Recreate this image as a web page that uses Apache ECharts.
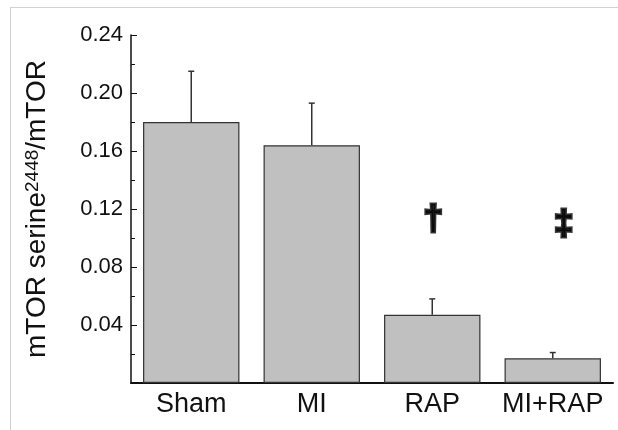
<!DOCTYPE html>
<html>
<head>
<meta charset="utf-8">
<script src="https://cdn.jsdelivr.net/npm/echarts@6/dist/echarts.min.js"></script>
<style>
  html, body { margin: 0; padding: 0; background: #fff; }
  #chart { width: 618px; height: 430px; }
</style>
</head>
<body>
<div id="chart"></div>
<script>
// Groups and measured ratios (mean ± SE)
const categories = ['Sham', 'MI', 'RAP', 'MI+RAP'];
const means = [0.180, 0.164, 0.047, 0.017];
const errors = [0.035, 0.029, 0.011, 0.004];
// Significance symbols and the level they sit at
const markers = ['', '', '\u2020', '\u2021'];
const markerLevels = [null, null, 0.1125, 0.1085];
// Y axis range
const yMin = 0, yMax = 0.24, yStep = 0.04;

const FONT = '"Liberation Sans", Arial, sans-serif';
// Horizontal nudge (px) for each symbol label
const markerNudge = { '\u2020': 1, '\u2021': 11 };

const chart = echarts.init(document.getElementById('chart'), null, { renderer: 'canvas' });

const errorData = means.map((m, i) => [i, m, m + errors[i]]);
const markerData = markers
  .map((s, i) => (s ? {
    value: [i, markerLevels[i]],
    symbolText: s,
    label: { offset: [markerNudge[s] || 0, 0] }
  } : null))
  .filter(Boolean);

chart.setOption({
  animation: false,
  backgroundColor: '#fff',
  graphic: [
    { type: 'line', shape: { x1: 10, y1: 7.5, x2: 618, y2: 7.5 }, style: { stroke: '#d2d2d2', lineWidth: 1 } },
    { type: 'line', shape: { x1: 10.5, y1: 7, x2: 10.5, y2: 430 }, style: { stroke: '#d2d2d2', lineWidth: 1 } }
  ],
  grid: { left: 131, right: 5, top: 35, bottom: 47 },
  xAxis: {
    type: 'category',
    data: categories,
    axisLine: { show: true, lineStyle: { color: '#111', width: 2 } },
    axisTick: { show: false },
    axisLabel: { interval: 0, fontSize: 27, color: '#111', fontFamily: FONT, margin: 8 },
    splitLine: { show: false }
  },
  yAxis: {
    type: 'value',
    min: yMin,
    max: yMax,
    interval: yStep,
    name: '{a|mTOR serine}{b|2448}{a|/mTOR}',
    nameLocation: 'middle',
    nameRotate: 90,
    nameGap: 80,
    nameTextStyle: {
      rich: {
        a: { fontSize: 28, color: '#111', fontFamily: FONT },
        b: { fontSize: 19, color: '#111', fontFamily: FONT, verticalAlign: 'top', padding: [0, 0, 8, 0] }
      }
    },
    axisLine: { show: true, lineStyle: { color: '#111', width: 1.5 } },
    axisTick: { show: true, inside: true, length: 6, lineStyle: { color: '#111', width: 1 } },
    minorTick: { show: true, splitNumber: 2, length: 4, lineStyle: { color: '#111', width: 1 } },
    splitLine: { show: false },
    axisLabel: {
      fontSize: 22,
      color: '#111',
      fontFamily: FONT,
      margin: 8,
      formatter: v => (v === 0 ? '' : v.toFixed(2))
    }
  },
  series: [
    {
      type: 'bar',
      data: means,
      barWidth: '80%',
      itemStyle: { color: '#c0c0c0', borderColor: '#333', borderWidth: 1.2 },
      z: 2
    },
    {
      type: 'custom',
      data: errorData,
      z: 1,
      renderItem: (params, api) => {
        const x = api.value(0);
        const base = api.coord([x, api.value(1)]);
        const top = api.coord([x, api.value(2)]);
        const cap = 3;
        const style = { stroke: '#333', lineWidth: 1.5 };
        return {
          type: 'group',
          children: [
            { type: 'line', shape: { x1: base[0], y1: base[1], x2: top[0], y2: top[1] }, style },
            { type: 'line', shape: { x1: top[0] - cap, y1: top[1], x2: top[0] + cap, y2: top[1] }, style }
          ]
        };
      }
    },
    {
      type: 'scatter',
      data: markerData,
      symbolSize: 0,
      silent: true,
      label: {
        show: true,
        position: 'inside',
        formatter: p => p.data.symbolText,
        fontSize: 35,
        fontWeight: 'bold',
        color: '#000',
        textBorderColor: '#000',
        textBorderWidth: 3,
        fontFamily: FONT
      },
      z: 3
    }
  ]
});
</script>
</body>
</html>
